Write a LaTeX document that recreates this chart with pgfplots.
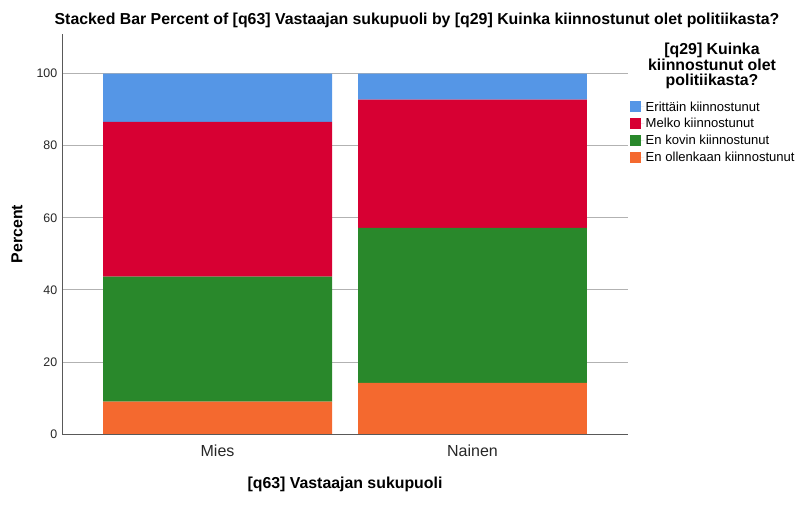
\documentclass[border=0pt]{standalone}
\usepackage{pgfplots}
\pgfplotsset{compat=1.18}
\usepackage{fontspec}
\setmainfont{Liberation Sans}
\definecolor{cBlue}{HTML}{5596E6}
\definecolor{cRed}{HTML}{D70033}
\definecolor{cGreen}{HTML}{29882B}
\definecolor{cOrange}{HTML}{F4692F}
\begin{document}
\begin{tikzpicture}[x=0.75pt,y=0.75pt]
\path[use as bounding box] (0,0) rectangle (807,507);
\begin{axis}[
  at={(46.5pt,54.75pt)}, anchor=south west,
  scale only axis, width=424.5pt, height=300pt,
  ybar stacked, bar width=0.898,
  xmin=-0.61, xmax=1.61, ymin=0, ymax=111,
  xtick={0,1}, xticklabels={Mies,Nainen},
  ytick={0,20,40,60,80,100},
  ymajorgrids, grid style={color=black!30, line width=0.6pt},
  axis x line*=bottom, axis y line*=left,
  axis line style={black!65, line width=0.7pt},
  major tick length=0pt,
  tick label style={font=\fontsize{9.3}{11}\selectfont, text=black!85},
  xticklabel style={font=\fontsize{12}{14}\selectfont, yshift=-5pt},
  /pgf/number format/assume math mode=true,
  legend cell align=left,
  legend style={at={(1.0,0.835)}, anchor=north west, draw=none, fill=none, inner sep=0pt,
    font=\fontsize{9.8}{11}\selectfont, row sep=3pt, xshift=1.5pt,
    nodes={inner sep=1pt, text depth=0.5pt}},
  legend image code/.code={\path (0pt,0pt) -- (10.6pt,0pt);\fill[#1] (0pt,-4.1pt) rectangle (8.2pt,4.1pt);},
  reverse legend,
]
\addplot[fill=cOrange, draw=none] coordinates {(0,9.0) (1,14.2)};
\addplot[fill=cGreen, draw=none] coordinates {(0,34.7) (1,43.0)};
\addplot[fill=cRed, draw=none] coordinates {(0,42.9) (1,35.6)};
\addplot[fill=cBlue, draw=none] coordinates {(0,13.4) (1,7.2)};
\legend{En ollenkaan kiinnostunut, En kovin kiinnostunut, Melko kiinnostunut, Erittäin kiinnostunut}
\end{axis}
\node[font=\bfseries\fontsize{11.9}{13}\selectfont] at (417,487) {Stacked Bar Percent of [q63] Vastaajan sukupuoli by [q29] Kuinka kiinnostunut olet politiikasta?};
\node[font=\bfseries\fontsize{11.9}{11.5}\selectfont, align=center] at (712,441) {[q29] Kuinka\\kiinnostunut olet\\politiikasta?};
\node[font=\bfseries\fontsize{11.9}{13}\selectfont, rotate=90] at (17,273) {Percent};
\node[font=\bfseries\fontsize{11.9}{13}\selectfont] at (345,23) {[q63] Vastaajan sukupuoli};
\end{tikzpicture}
\end{document}
